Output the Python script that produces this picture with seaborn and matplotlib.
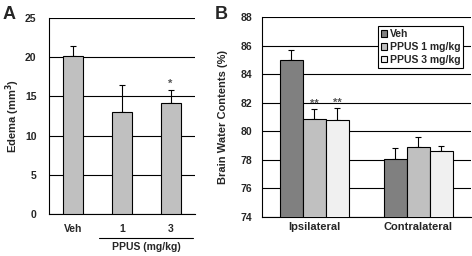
import numpy as np
import pandas as pd
import matplotlib
matplotlib.use("Agg")
import matplotlib.pyplot as plt
import seaborn as sns

# panel A data
edema_groups = ["Veh", "1", "3"]
edema_mean = [20.2, 13.0, 14.1]
edema_err = [1.2, 3.4, 1.7]

# panel B data
regions = ["Ipsilateral", "Contralateral"]
treatments = ["Veh", "PPUS 1 mg/kg", "PPUS 3 mg/kg"]
water_mean = {"Veh": [85.0, 78.05], "PPUS 1 mg/kg": [80.85, 78.9], "PPUS 3 mg/kg": [80.8, 78.6]}
water_err = {"Veh": [0.7, 0.75], "PPUS 1 mg/kg": [0.7, 0.7], "PPUS 3 mg/kg": [0.8, 0.35]}
colors = ["#808080", "#c0c0c0", "#f0f0f0"]

sns.set_style("white")
plt.rcParams["font.family"] = ["Liberation Sans", "DejaVu Sans"]
plt.rcParams["font.weight"] = "bold"
plt.rcParams["axes.labelweight"] = "bold"

fig = plt.figure(figsize=(4.72, 2.56), dpi=100)

# ---- A ----
axA = fig.add_axes([0.104, 0.164, 0.309, 0.766])
dfA = pd.DataFrame({"group": edema_groups, "edema": edema_mean})
sns.barplot(data=dfA, x="group", y="edema", color="#c0c0c0", edgecolor="black",
            linewidth=0.8, width=0.41, errorbar=None, saturation=1, ax=axA, zorder=3)
xs = [p.get_x() + p.get_width() / 2 for p in axA.patches]
axA.errorbar(xs, edema_mean, yerr=[np.zeros(3), edema_err], fmt="none", ecolor="black",
             elinewidth=0.8, capsize=2, capthick=0.8, zorder=2)
axA.text(xs[2], edema_mean[2] + edema_err[2] + 0.2, "*", ha="center", va="bottom",
         fontsize=8, color="#555555")
axA.set_ylim(0, 25)
axA.set_xlim(-0.5, 2.5)
axA.set_yticks([0, 5, 10, 15, 20, 25])
axA.yaxis.grid(True, color="black", linewidth=0.8)
axA.set_axisbelow(True)
axA.set_xlabel("")
axA.set_ylabel("Edema (mm$^\\mathbf{3}$)", fontsize=8, labelpad=2)
for s in ["top", "right"]:
    axA.spines[s].set_visible(False)
axA.spines["left"].set_color("black")
axA.spines["bottom"].set_color("black")
axA.spines["left"].set_linewidth(0.8)
axA.spines["bottom"].set_linewidth(0.8)
axA.tick_params(axis="y", labelsize=7.5, length=0, pad=9)
axA.tick_params(axis="x", labelsize=7.5, length=0, pad=7)
axA.set_xticks([0.5, 1.5, 2.5], minor=True)
axA.tick_params(axis="x", which="minor", direction="in", length=2, color="black")
for t in axA.get_xticklabels() + axA.get_yticklabels():
    t.set_fontweight("bold")
axA.plot([0.52, 2.45], [-0.122, -0.122], transform=axA.get_xaxis_transform(), color="black",
         linewidth=0.8, clip_on=False)
axA.text(1.5, -0.145, "PPUS (mg/kg)", transform=axA.get_xaxis_transform(), ha="center",
         va="top", fontsize=7.5, fontweight="bold")

# ---- B ----
axB = fig.add_axes([0.555, 0.1535, 0.442, 0.779])
rows = []
for t in treatments:
    for r, m in zip(regions, water_mean[t]):
        rows.append({"region": r, "treatment": t, "water": m})
dfB = pd.DataFrame(rows)
sns.barplot(data=dfB, x="region", y="water", hue="treatment", palette=colors,
            edgecolor="black", linewidth=0.8, width=0.66, errorbar=None, saturation=1,
            ax=axB, zorder=3)
for t, cont in zip(treatments, axB.containers):
    bx = [p.get_x() + p.get_width() / 2 for p in cont]
    axB.errorbar(bx, water_mean[t], yerr=[np.zeros(2), water_err[t]], fmt="none",
                 ecolor="black", elinewidth=0.8, capsize=2, capthick=0.8, zorder=2)
    if t != "Veh":
        axB.text(bx[0], water_mean[t][0] + water_err[t][0] + 0.05, "**", ha="center",
                 va="bottom", fontsize=8, color="#555555")
axB.set_ylim(74, 88)
axB.set_xlim(-0.5, 1.5)
axB.set_yticks(range(74, 89, 2))
axB.yaxis.grid(True, color="black", linewidth=0.8)
axB.set_axisbelow(True)
axB.set_xlabel("")
axB.set_ylabel("Brain Water Contents (%)", fontsize=8, labelpad=9)
for s in ["top", "right"]:
    axB.spines[s].set_visible(False)
axB.spines["left"].set_color("black")
axB.spines["bottom"].set_color("black")
axB.spines["left"].set_linewidth(0.8)
axB.spines["bottom"].set_linewidth(0.8)
axB.tick_params(axis="y", labelsize=7.5, length=0, pad=7)
axB.tick_params(axis="x", labelsize=8, length=0, pad=4)
axB.set_xticks([0.5], minor=True)
axB.tick_params(axis="x", which="minor", direction="in", length=2, color="black")
for t in axB.get_xticklabels() + axB.get_yticklabels():
    t.set_fontweight("bold")
leg = axB.legend(loc="upper right", bbox_to_anchor=(0.965, 0.955), fontsize=7.5,
                 frameon=True, fancybox=False, edgecolor="black", framealpha=1,
                 handlelength=0.6, handleheight=0.6, handletextpad=0.2,
                 borderpad=0.3, labelspacing=0.25, borderaxespad=0)
leg.get_frame().set_linewidth(0.8)
for txt in leg.get_texts():
    txt.set_fontweight("bold")

fig.text(0.005, 0.975, "A", fontsize=13, fontweight="bold", va="top")
fig.text(0.455, 0.975, "B", fontsize=13, fontweight="bold", va="top")

fig.savefig("out.png", dpi=100)
